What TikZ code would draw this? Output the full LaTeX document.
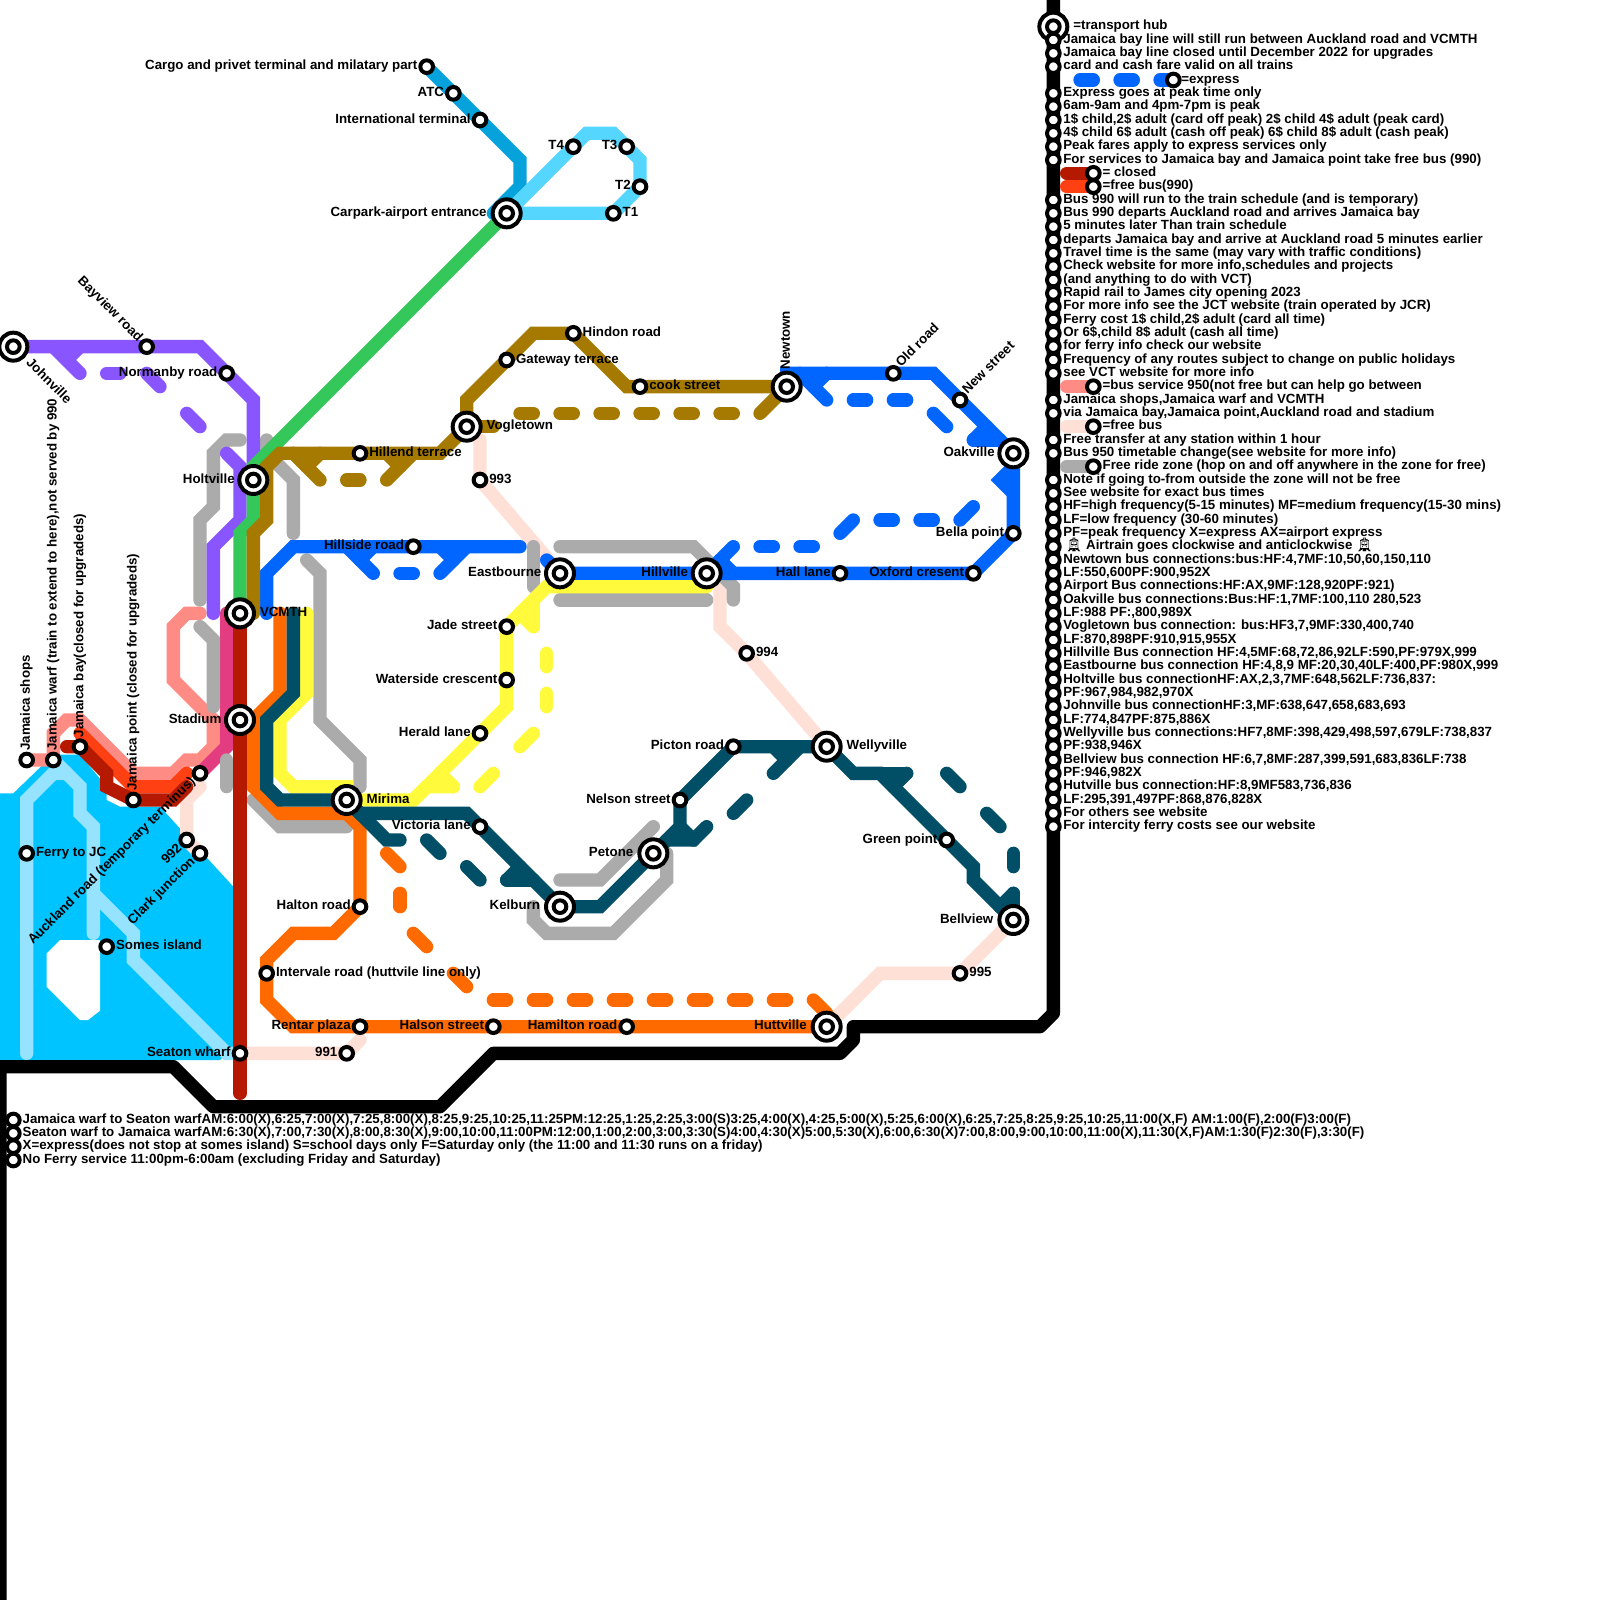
\documentclass[tikz,border=0pt]{standalone}
\usepackage{fontspec}
\setmainfont{Liberation Sans}
\newfontfamily\emojifont{Noto Emoji}
\definecolor{cWater}{HTML}{00C4FF}
\definecolor{cFerry}{HTML}{96E3FF}
\definecolor{cGrey}{HTML}{ABABAB}
\definecolor{cPale}{HTML}{FFE0D6}
\definecolor{cPink}{HTML}{FF8C84}
\definecolor{cFree}{HTML}{FF4013}
\definecolor{cClosed}{HTML}{B51A00}
\definecolor{cMagenta}{HTML}{E33C80}
\definecolor{cPurple}{HTML}{8855FF}
\definecolor{cBlue}{HTML}{0066FF}
\definecolor{cGreen}{HTML}{34C759}
\definecolor{cBrown}{HTML}{A67A00}
\definecolor{cTeal}{HTML}{004F66}
\definecolor{cYellow}{HTML}{FFFB3C}
\definecolor{cOrange}{HTML}{FF6A00}
\definecolor{cAirport}{HTML}{06A2DB}
\definecolor{cAirtrain}{HTML}{55D6FF}
\tikzset{
  ln/.style={line width=0.2cm,line cap=round,line join=miter},
  stopmark/.style={circle,draw=black,fill=white,line width=1.7pt,minimum size=0.19cm,inner sep=0pt,outer sep=0pt},
  hubring/.style={circle,draw=black,fill=white,line width=1.7pt,minimum size=0.42cm,inner sep=0pt,outer sep=0pt},
  txt/.style={inner sep=0pt,outer sep=0pt,text height=4pt,text depth=1.2pt,font=\fontsize{5.68}{6.5}\selectfont\bfseries},
  lw/.style={txt,anchor=west},
  le/.style={txt,anchor=east},
}
\newcommand\stp[3]{\node[stopmark] (#1) at (#2,#3) {};}
\newcommand\hb[3]{\node[hubring] (#1) at (#2,#3) {};\node[stopmark] (#1i) at (#2,#3) {};}
\newcommand\lgline[2]{\node[stopmark] (lgs#1) at (79,#1) {};\node[lw] (lgt#1) at (79.75,#1) {#2};}
\pgfdeclarelayer{lines}
\pgfsetlayers{lines,main}
\begin{document}
\begin{tikzpicture}[x=0.2cm,y=-0.2cm]
\useasboundingbox (0,0) rectangle (120,120);
% hubs
\hb{johnville}{1}{26}\hb{holtville}{19}{36}\hb{vcmth}{18}{46}\hb{stadium}{18}{54}
\hb{mirima}{26}{60}\hb{carpark}{38}{16}\hb{vogletown}{35}{32}\hb{newtown}{59}{29}
\hb{oakville}{76}{34}\hb{eastbourne}{42}{43}\hb{hillville}{53}{43}\hb{petone}{49}{64}
\hb{kelburn}{42}{68}\hb{wellyville}{62}{56}\hb{bellview}{76}{69}\hb{huttville}{62}{77}
% stops
\stp{cargo}{32}{5}\stp{atc}{34}{7}\stp{intl}{36}{9}\stp{tfour}{43}{11}\stp{tthree}{47}{11}\stp{ttwo}{48}{14}\stp{tone}{46}{16}
\stp{bayview}{11}{26}\stp{normanby}{17}{28}\stp{hindon}{43}{25}\stp{gateway}{38}{27}\stp{cook}{48}{29}
\stp{oldroad}{67}{28}\stp{newstreet}{72}{30}\stp{hillend}{27}{34}\stp{s993}{36}{36}\stp{hillside}{31}{41}
\stp{halllane}{63}{43}\stp{oxford}{73}{43}\stp{bella}{76}{40}\stp{jade}{38}{47}\stp{waterside}{38}{51}
\stp{herald}{36}{55}\stp{s994}{56}{49}\stp{picton}{55}{56}\stp{nelson}{51}{60}\stp{victoria}{36}{62}
\stp{green}{71}{63}\stp{halton}{27}{68}\stp{intervale}{20}{73}\stp{s995}{72}{73}\stp{rentar}{27}{77}
\stp{halson}{37}{77}\stp{hamilton}{47}{77}\stp{s991}{26}{79}\stp{seaton}{18}{79}\stp{jshops}{2}{57}
\stp{jwarf}{4}{57}\stp{jbay}{6}{56}\stp{jpoint}{10}{60}\stp{auckland}{15}{58}\stp{s992}{14}{63}
\stp{clark}{15}{64}\stp{ferryjc}{2}{64}\stp{somes}{8}{71}
% station labels
\node[le] (tCargo) at (31.3,5) {Cargo and privet terminal and milatary part};
\node[le] (tAtc) at (33.3,7) {ATC};
\node[le] (tIntl) at (35.3,9) {International terminal};
\node[le] (tTfour) at (42.3,11) {T4};
\node[le] (tTthree) at (46.3,11) {T3};
\node[le] (tTtwo) at (47.3,14) {T2};
\node[lw] (tTone) at (46.7,16) {T1};
\node[le] (tCarpark) at (36.5,16) {Carpark-airport entrance};
\node[txt,anchor=east,rotate=-45] (tBayview) at (10.5,25.5) {Bayview road};
\node[txt,anchor=west,rotate=-45] (tJohnville) at (2.1,27.1) {Johnville};
\node[le] (tNormanby) at (16.3,28) {Normanby road};
\node[lw] (tHindon) at (43.7,25) {Hindon road};
\node[lw] (tGateway) at (38.7,27) {Gateway terrace};
\node[lw] (tCook) at (48.7,29) {cook street};
\node[txt,anchor=west,rotate=90] (tNewtown) at (59,27.7) {Newtown};
\node[txt,anchor=west,rotate=45] (tOld) at (67.4,27.4) {Old road};
\node[txt,anchor=west,rotate=45] (tNew) at (72.4,29.4) {New street};
\node[lw] (tVogletown) at (36.5,32) {Vogletown};
\node[lw] (tHillend) at (27.7,34) {Hillend terrace};
\node[le] (tHoltville) at (17.6,36) {Holtville};
\node[lw] (t993) at (36.7,36) {993};
\node[le] (tOakville) at (74.6,34) {Oakville};
\node[le] (tHillside) at (30.3,41) {Hillside road};
\node[le] (tBella) at (75.3,40) {Bella point};
\node[le] (tEastbourne) at (40.6,43) {Eastbourne};
\node[le] (tHillville) at (51.6,43) {Hillville};
\node[le] (tHall) at (62.3,43) {Hall lane};
\node[le] (tOxford) at (72.3,43) {Oxford cresent};
\node[lw] (tVcmth) at (19.5,46) {VCMTH};
\node[le] (tJade) at (37.3,47) {Jade street};
\node[lw] (t994) at (56.7,49) {994};
\node[le] (tWaterside) at (37.3,51) {Waterside crescent};
\node[le] (tStadium) at (16.6,54) {Stadium};
\node[le] (tHerald) at (35.3,55) {Herald lane};
\node[le] (tPicton) at (54.3,56) {Picton road};
\node[lw] (tWellyville) at (63.5,56) {Wellyville};
\node[txt,anchor=west,rotate=90] (tShops) at (2,56.3) {Jamaica shops};
\node[txt,anchor=west,rotate=90] (tWarf) at (4,56.3) {Jamaica warf (train to extend to here),not served by 990};
\node[txt,anchor=west,rotate=90] (tBay) at (6,55.3) {Jamaica bay(closed for upgradeds)};
\node[txt,anchor=west,rotate=90] (tPoint) at (10,59.3) {Jamaica point (closed for upgradeds)};
\node[txt,anchor=east,rotate=45] (tAuckland) at (14.5,58.5) {Auckland road (temporary terminus)};
\node[lw] (tMirima) at (27.5,60) {Mirima};
\node[le] (tNelson) at (50.3,60) {Nelson street};
\node[le] (tVictoria) at (35.3,62) {Victoria lane};
\node[txt,anchor=east,rotate=45] (t992) at (13.5,63.5) {992};
\node[txt,anchor=east,rotate=45] (tClark) at (14.5,64.5) {Clark junction};
\node[lw] (tFerry) at (2.7,64) {Ferry to JC};
\node[le] (tGreen) at (70.3,63) {Green point};
\node[le] (tPetone) at (47.5,64) {Petone};
\node[le] (tHalton) at (26.3,68) {Halton road};
\node[le] (tKelburn) at (40.5,68) {Kelburn};
\node[le] (tBellview) at (74.5,69) {Bellview};
\node[lw] (tSomes) at (8.7,71) {Somes island};
\node[lw] (tIntervale) at (20.7,73) {Intervale road (huttvile line only)};
\node[lw] (t995) at (72.7,73) {995};
\node[le] (tRentar) at (26.3,77) {Rentar plaza};
\node[le] (tHalson) at (36.3,77) {Halson street};
\node[le] (tHamilton) at (46.3,77) {Hamilton road};
\node[le] (tHuttville) at (60.5,77) {Huttville};
\node[le] (t991) at (25.3,79) {991};
\node[le] (tSeaton) at (17.3,79) {Seaton wharf};
% legend
\hb{lghub}{79}{2}
\node[lw] (lgtHub) at (80.5,2) {=transport hub};
\lgline{3}{Jamaica bay line will still run between Auckland road and VCMTH}
\lgline{4}{Jamaica bay line closed until December 2022 for upgrades}
\lgline{5}{card and cash fare valid on all trains}
\stp{lgExp}{88}{6}\node[lw] (lgtExp) at (88.6,6) {=express};
\lgline{7}{Express goes at peak time only}
\lgline{8}{6am-9am and 4pm-7pm is peak}
\lgline{9}{1\$ child,2\$ adult (card off peak) 2\$ child 4\$ adult (peak card)}
\lgline{10}{4\$ child 6\$ adult (cash off peak) 6\$ child 8\$ adult (cash peak)}
\lgline{11}{Peak fares apply to express services only}
\lgline{12}{For services to Jamaica bay and Jamaica point take free bus (990)}
\stp{lgClosed}{82}{13}\node[lw] (lgtClosed) at (82.7,13) {= closed};
\stp{lgFree}{82}{14}\node[lw] (lgtFree) at (82.7,14) {=free bus(990)};
\lgline{15}{Bus 990 will run to the train schedule (and is temporary)}
\lgline{16}{Bus 990 departs Auckland road and arrives Jamaica bay}
\lgline{17}{5 minutes later Than train schedule}
\lgline{18}{departs Jamaica bay and arrive at Auckland road 5 minutes earlier}
\lgline{19}{Travel time is the same (may vary with traffic conditions)}
\lgline{20}{Check website for more info,schedules and projects}
\lgline{21}{(and anything to do with VCT)}
\lgline{22}{Rapid rail to James city opening 2023}
\lgline{23}{For more info see the JCT website (train operated by JCR)}
\lgline{24}{Ferry cost 1\$ child,2\$ adult (card all time)}
\lgline{25}{Or 6\$,child 8\$ adult (cash all time)}
\lgline{26}{for ferry info check our website}
\lgline{27}{Frequency of any routes subject to change on public holidays}
\lgline{28}{see VCT website for more info}
\stp{lgBus}{82}{29}\node[lw] (lgtBus) at (82.7,29) {=bus service 950(not free but can help go between};
\lgline{30}{Jamaica shops,Jamaica warf and VCMTH}
\lgline{31}{via Jamaica bay,Jamaica point,Auckland road and stadium}
\stp{lgPale}{82}{32}\node[lw] (lgtPale) at (82.7,32) {=free bus};
\lgline{33}{Free transfer at any station within 1 hour}
\lgline{34}{Bus 950 timetable change(see website for more info)}
\stp{lgZone}{82}{35}\node[lw] (lgtZone) at (82.7,35) {Free ride zone (hop on and off anywhere in the zone for free)};
\lgline{36}{Note if going to-from outside the zone will not be free}
\lgline{37}{See website for exact bus times}
\lgline{38}{HF=high frequency(5-15 minutes) MF=medium frequency(15-30 mins)}
\lgline{39}{LF=low frequency (30-60 minutes)}
\lgline{40}{PF=peak frequency X=express AX=airport express}
\lgline{41}{\,{\emojifont 🚊} Airtrain goes clockwise and anticlockwise {\emojifont 🚊}}
\lgline{42}{Newtown bus connections:bus:HF:4,7MF:10,50,60,150,110}
\lgline{43}{LF:550,600PF:900,952X}
\lgline{44}{Airport Bus connections:HF:AX,9MF:128,920PF:921)}
\lgline{45}{Oakville bus connections:Bus:HF:1,7MF:100,110 280,523}
\lgline{46}{LF:988 PF:,800,989X}
\lgline{47}{Vogletown bus connection: bus:HF3,7,9MF:330,400,740}
\lgline{48}{LF:870,898PF:910,915,955X}
\lgline{49}{Hillville Bus connection HF:4,5MF:68,72,86,92LF:590,PF:979X,999}
\lgline{50}{Eastbourne bus connection HF:4,8,9 MF:20,30,40LF:400,PF:980X,999}
\lgline{51}{Holtville bus connectionHF:AX,2,3,7MF:648,562LF:736,837:}
\lgline{52}{PF:967,984,982,970X}
\lgline{53}{Johnville bus connectionHF:3,MF:638,647,658,683,693}
\lgline{54}{LF:774,847PF:875,886X}
\lgline{55}{Wellyville bus connections:HF7,8MF:398,429,498,597,679LF:738,837}
\lgline{56}{PF:938,946X}
\lgline{57}{Bellview bus connection HF:6,7,8MF:287,399,591,683,836LF:738}
\lgline{58}{PF:946,982X}
\lgline{59}{Hutville bus connection:HF:8,9MF583,736,836}
\lgline{60}{LF:295,391,497PF:868,876,828X}
\lgline{61}{For others see website}
\lgline{62}{For intercity ferry costs see our website}
% ferry notes
\stp{fa}{1}{84}\stp{fb}{1}{85}\stp{fc}{1}{86}\stp{fd}{1}{87}
\node[lw] (fta) at (1.7,84) {Jamaica warf to Seaton warfAM:6:00(X),6:25,7:00(X),7:25,8:00(X),8:25,9:25,10:25,11:25PM:12:25,1:25,2:25,3:00(S)3:25,4:00(X),4:25,5:00(X),5:25,6:00(X),6:25,7:25,8:25,9:25,10:25,11:00(X,F) AM:1:00(F),2:00(F)3:00(F)};
\node[lw] (ftb) at (1.7,85) {Seaton warf to Jamaica warfAM:6:30(X),7:00,7:30(X),8:00,8:30(X),9:00,10:00,11:00PM:12:00,1:00,2:00,3:00,3:30(S)4:00,4:30(X)5:00,5:30(X),6:00,6:30(X)7:00,8:00,9:00,10:00,11:00(X),11:30(X,F)AM:1:30(F)2:30(F),3:30(F)};
\node[lw] (ftc) at (1.7,86) {X=express(does not stop at somes island) S=school days only F=Saturday only (the 11:00 and 11:30 runs on a friday)};
\node[lw] (ftd) at (1.7,87) {No Ferry service 11:00pm-6:00am (excluding Friday and Saturday)};
\begin{pgfonlayer}{lines}
\fill[white] (0,0) rectangle (120,120);
% water and island
\fill[cWater] (0,59.5) -- (1,59.5) -- (4,56.6) -- (6,56.6) -- (8,59) -- (8,60) -- (9,60.5) -- (12,60.5) -- (17.5,66.5) -- (17.5,78.5) -- (16.5,79.5) -- (0,79.5) -- cycle;
\fill[white] (3.5,71.5) -- (4.5,70.5) -- (7.5,70.5) -- (7.5,75.8) -- (6.6,76.5) -- (6,76.5) -- (3.5,74) -- cycle;
% ferry
\draw[ln,cFerry] (seaton.center) -- (17,79) -- (10,72) -- (10,70) -- (7,67);
\draw[ln,cFerry] (2,79) -- (2,60) -- (4,58) -- (5,58) -- (6,59) -- (6,61) -- (7,62) -- (7,70);
\draw[ln,cFerry] (jwarf.center) -- (5,58);
% pale free bus
\draw[ln,cPale] (36,33) -- (s993.center) -- (eastbourne.center);
\draw[ln,cPale] (hillville.center) -- (54,44) -- (54,47) -- (s994.center) -- (wellyville.center);
\draw[ln,cPale] (bellview.center) -- (s995.center) -- (66,73) -- (huttville.center);
\draw[ln,cPale] (seaton.center) -- (s991.center) -- (27,78);
\draw[ln,cPale] (clark.center) -- (s992.center) -- (14,60) -- (15,59);
% bus 950
\draw[ln,cPink] (jshops.center) -- (jwarf.center) -- (4,55) -- (5,54) -- (6,54) -- (10,58) -- (13,58) -- (14,57) -- (15,57) -- (16,56) -- (16,54) -- (13,51) -- (13,47) -- (14,46) -- (15,46);
% free bus 990, closed
\draw[ln,cFree] (6,55) -- (10,59) -- (13,59) -- (14,58);
\draw[ln,cMagenta] (17,46) -- (17,56) -- (auckland.center);
\draw[ln,cClosed] (5,56) -- (jbay.center) -- (8,58) -- (8,59) -- (jpoint.center) -- (13,60) -- (14,59);
% free ride zone
\draw[ln,cGrey] (18,33) -- (17,33) -- (16,34) -- (16,38) -- (15,39) -- (15,45);
\draw[ln,cGrey] (20,33) -- (20,34) -- (22,36) -- (22,40);
\draw[ln,cGrey] (23,42) -- (24,43) -- (24,54) -- (27,57) -- (27,59);
\draw[ln,cGrey] (15,47) -- (16,48) -- (16,53);
\draw[ln,cGrey] (17,57) -- (17,59);
\draw[ln,cGrey] (19,60) -- (21,62) -- (26,62);
\draw[ln,cGrey] (42,66) -- (45,66) -- (49,62);
\draw[ln,cGrey] (50,64) -- (50,66) -- (46,70) -- (41,70) -- (40,69) -- (40,68);
\draw[ln,cGrey] (40,41) -- (40,44);
\draw[ln,cGrey] (42,41) -- (52,41) -- (55,44) -- (55,45);
\draw[ln,cGrey] (42,45) -- (53,45);
% purple
\draw[ln,cPurple] (johnville.center) -- (bayview.center) -- (15,26) -- (normanby.center) -- (19,30) -- (holtville.center);
\draw[ln,cPurple] (17,34) -- (18,35) -- (18,39) -- (16,41) -- (16,46);
\draw[ln,cPurple] (4,26) -- (6,28);
\draw[ln,cPurple] (6,26) -- (5,27);
\draw[ln,cPurple] (8,28) -- (9,28);
\draw[ln,cPurple] (11,28) -- (12,29);
\draw[ln,cPurple] (14,31) -- (15,32);
% blue
\draw[ln,cBlue] (20,46) -- (20,43) -- (22,41) -- (hillside.center) -- (39,41);
\draw[ln,cBlue] (26,41) -- (28,43);
\draw[ln,cBlue] (28,41) -- (27,42);
\draw[ln,cBlue] (30,43) -- (31,43);
\draw[ln,cBlue] (33,43) -- (35,41);
\draw[ln,cBlue] (33,41) -- (34,42);
\draw[ln,cBlue] (41,42) -- (eastbourne.center) -- (hillville.center) -- (halllane.center) -- (oxford.center) -- (bella.center) -- (oakville.center);
\draw[ln,cBlue] (hillville.center) -- (55,41);
\draw[ln,cBlue] (54,42) -- (55,43);
\draw[ln,cBlue] (57,41) -- (58,41);
\draw[ln,cBlue] (60,41) -- (61,41);
\draw[ln,cBlue] (63,40) -- (64,39);
\draw[ln,cBlue] (66,39) -- (67,39);
\draw[ln,cBlue] (69,39) -- (70,39);
\draw[ln,cBlue] (72,39) -- (73,38);
\draw[ln,cBlue] (76,37) -- (75,36) -- (76,35);
\draw[ln,cBlue] (newtown.center) -- (59,28) -- (oldroad.center) -- (70,28) -- (newstreet.center) -- (oakville.center);
\draw[ln,cBlue] (60,28) -- (62,30);
\draw[ln,cBlue] (62,28) -- (61,29);
\draw[ln,cBlue] (64,30) -- (65,30);
\draw[ln,cBlue] (67,30) -- (68,30);
\draw[ln,cBlue] (70,31) -- (71,32);
\draw[ln,cBlue] (73,33) -- (75,33);
\draw[ln,cBlue] (73,33) -- (74,32);
% airport
\draw[ln,cAirport] (cargo.center) -- (atc.center) -- (intl.center) -- (39,12) -- (39,14) -- (37,16);
\draw[ln,cAirtrain] (carpark.center) -- (tfour.center) -- (44,10) -- (46,10) -- (tthree.center) -- (48,12) -- (ttwo.center) -- (tone.center) -- cycle;
\draw[ln,cGreen] (carpark.center) -- (19,35) -- (19,39) -- (18,40) -- (vcmth.center);
% brown
\draw[ln,cBrown] (19,46) -- (19,40) -- (20,39) -- (20,35) -- (21,34) -- (hillend.center) -- (33,34) -- (vogletown.center) -- (35,30) -- (gateway.center) -- (40,25) -- (hindon.center) -- (47,29) -- (cook.center) -- (newtown.center);
\draw[ln,cBrown] (vogletown.center) -- (37,32);
\draw[ln,cBrown] (22,34) -- (24,36);
\draw[ln,cBrown] (24,34) -- (23,35);
\draw[ln,cBrown] (26,36) -- (27,36);
\draw[ln,cBrown] (29,36) -- (31,34);
\draw[ln,cBrown] (29,34) -- (30,35);
\draw[ln,cBrown] (39,31) -- (40,31);
\draw[ln,cBrown] (42,31) -- (43,31);
\draw[ln,cBrown] (45,31) -- (46,31);
\draw[ln,cBrown] (48,31) -- (49,31);
\draw[ln,cBrown] (51,31) -- (52,31);
\draw[ln,cBrown] (54,31) -- (55,31);
\draw[ln,cBrown] (57,31) -- (newtown.center);
% orange
\draw[ln,cOrange] (21,46) -- (21,52) -- (19,54) -- (19,59) -- (21,61) -- (26,61) -- (27,62) -- (halton.center) -- (25,70) -- (22,70) -- (20,72) -- (intervale.center) -- (20,75) -- (22,77) -- (rentar.center) -- (halson.center) -- (hamilton.center) -- (huttville.center);
\draw[ln,cOrange] (29,64) -- (30,65);
\draw[ln,cOrange] (30,67) -- (30,68);
\draw[ln,cOrange] (31,70) -- (32,71);
\draw[ln,cOrange] (34,73) -- (35,74);
\draw[ln,cOrange] (37,75) -- (38,75);
\draw[ln,cOrange] (40,75) -- (41,75);
\draw[ln,cOrange] (43,75) -- (44,75);
\draw[ln,cOrange] (46,75) -- (47,75);
\draw[ln,cOrange] (49,75) -- (50,75);
\draw[ln,cOrange] (52,75) -- (53,75);
\draw[ln,cOrange] (55,75) -- (56,75);
\draw[ln,cOrange] (58,75) -- (59,75);
\draw[ln,cOrange] (61,75) -- (62,76);
% yellow
\draw[ln,cYellow] (23,46) -- (23,52) -- (21,54) -- (21,58) -- (22,59) -- (26,59) -- (mirima.center);
\draw[ln,cYellow] (mirima.center) -- (31,60) -- (38,53) -- (waterside.center) -- (jade.center) -- (41,44) -- (53,44);
\draw[ln,cYellow] (31,60) -- (32,59) -- (34,59);
\draw[ln,cYellow] (34,59) -- (33,58);
\draw[ln,cYellow] (36,59) -- (37,58);
\draw[ln,cYellow] (39,56) -- (40,55);
\draw[ln,cYellow] (41,52) -- (41,53);
\draw[ln,cYellow] (41,49) -- (41,50);
\draw[ln,cYellow] (40,47) -- (40,45);
\draw[ln,cYellow] (40,47) -- (39,46);
% teal
\draw[ln,cTeal] (22,46) -- (22,52) -- (20,54) -- (20,59) -- (21,60) -- (mirima.center) -- (27,61) -- (35,61) -- (kelburn.center) -- (45,68) -- (petone.center) -- (51,62) -- (nelson.center) -- (picton.center) -- (wellyville.center) -- (64,58) -- (66,58) -- (73,65) -- (73,66) -- (bellview.center);
\draw[ln,cTeal] (mirima.center) -- (29,63) -- (30,63);
\draw[ln,cTeal] (32,63) -- (33,64);
\draw[ln,cTeal] (35,65) -- (36,66);
\draw[ln,cTeal] (38,66) -- (40,66);
\draw[ln,cTeal] (38,66) -- (39,65);
\draw[ln,cTeal] (50,63) -- (52,63) -- (53,62);
\draw[ln,cTeal] (51,62) -- (52,63);
\draw[ln,cTeal] (55,61) -- (56,60);
\draw[ln,cTeal] (58,58) -- (60,56);
\draw[ln,cTeal] (58,56) -- (59,57);
\draw[ln,cTeal] (66,58) -- (68,58);
\draw[ln,cTeal] (68,58) -- (67,59);
\draw[ln,cTeal] (71,58) -- (72,59);
\draw[ln,cTeal] (74,61) -- (75,62);
\draw[ln,cTeal] (76,64) -- (76,65);
\draw[ln,cTeal] (76,67) -- (bellview.center);
\draw[ln,cTeal] (76,67) -- (75,68);
% main trunk
\draw[ln,cClosed] (vcmth.center) -- (stadium.center) -- (seaton.center) -- (18,82);
% border
\draw[line width=0.2cm,line join=round,black] (79,0) -- (79,76) -- (78,77) -- (64,77) -- (64,78) -- (63,79) -- (37,79) -- (33,83) -- (16,83) -- (13,80) -- (0,80) -- (0,120);
% legend swatches
\draw[ln,cBlue] (81,6) -- (82,6);
\draw[ln,cBlue] (84,6) -- (85,6);
\draw[ln,cBlue] (87,6) -- (lgExp.center);
\draw[ln,cClosed] (80,13) -- (lgClosed.center);
\draw[ln,cFree] (80,14) -- (lgFree.center);
\draw[ln,cPink] (80,29) -- (lgBus.center);
\draw[ln,cPale] (80,32) -- (lgPale.center);
\draw[ln,cGrey] (80,35) -- (lgZone.center);
\end{pgfonlayer}
\end{tikzpicture}
\end{document}
